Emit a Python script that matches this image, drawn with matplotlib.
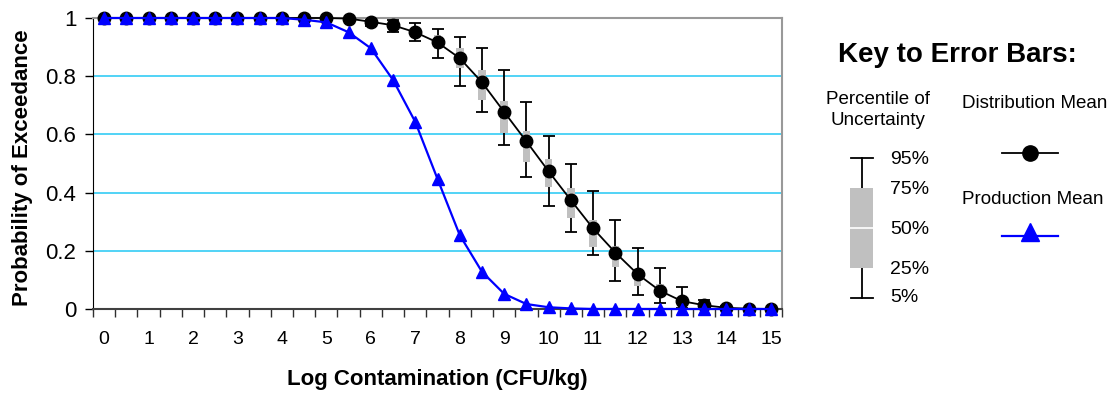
import numpy as np
import matplotlib
matplotlib.use("Agg")
import matplotlib.pyplot as plt
from matplotlib.patches import Rectangle
from matplotlib.lines import Line2D

plt.rcParams["font.family"] = ["Liberation Sans", "DejaVu Sans"]

# Log contamination categories (CFU/kg)
log_cfu = [0, 0.5, 1, 1.5, 2, 2.5, 3, 3.5, 4, 4.5, 5, 5.5, 6, 6.5, 7, 7.5,
           8, 8.5, 9, 9.5, 10, 10.5, 11, 11.5, 12, 12.5, 13, 13.5, 14, 14.5, 15]

# Distribution mean probability of exceedance
dist_mean = [1.0, 1.0, 1.0, 1.0, 1.0, 1.0, 1.0, 1.0, 1.0, 1.0, 1.0, 0.998,
             0.987, 0.975, 0.951, 0.916, 0.862, 0.779, 0.677, 0.576, 0.473,
             0.374, 0.277, 0.194, 0.120, 0.063, 0.027, 0.013, 0.004, 0.001, 0.0]

# Uncertainty percentiles around the distribution mean
p05 = [1.0, 1.0, 1.0, 1.0, 1.0, 1.0, 1.0, 1.0, 1.0, 1.0, 1.0, 0.994,
       0.972, 0.953, 0.922, 0.864, 0.766, 0.678, 0.564, 0.455, 0.354,
       0.266, 0.187, 0.097, 0.049, 0.020, 0.003, 0.0, 0.0, 0.0, 0.0]
p25 = [1.0, 1.0, 1.0, 1.0, 1.0, 1.0, 1.0, 1.0, 1.0, 1.0, 1.0, 0.997,
       0.982, 0.965, 0.940, 0.895, 0.827, 0.718, 0.604, 0.506, 0.418,
       0.312, 0.214, 0.145, 0.079, 0.045, 0.015, 0.005, 0.0, 0.0, 0.0]
p75 = [1.0, 1.0, 1.0, 1.0, 1.0, 1.0, 1.0, 1.0, 1.0, 1.0, 1.0, 1.0,
       0.994, 0.985, 0.965, 0.940, 0.898, 0.821, 0.715, 0.613, 0.517,
       0.415, 0.306, 0.218, 0.134, 0.085, 0.040, 0.020, 0.006, 0.002, 0.0]
p95 = [1.0, 1.0, 1.0, 1.0, 1.0, 1.0, 1.0, 1.0, 1.0, 1.0, 1.0, 1.0,
       0.998, 0.993, 0.982, 0.961, 0.934, 0.897, 0.820, 0.712, 0.593,
       0.497, 0.407, 0.306, 0.210, 0.140, 0.075, 0.031, 0.010, 0.003, 0.0]

# Production mean probability of exceedance
prod_mean = [1.0, 1.0, 1.0, 1.0, 1.0, 1.0, 1.0, 1.0, 1.0, 0.994, 0.985,
             0.951, 0.896, 0.787, 0.643, 0.447, 0.254, 0.128, 0.052, 0.017,
             0.006, 0.002, 0.0, 0.0, 0.0, 0.0, 0.0, 0.0, 0.0, 0.0, 0.0]

y_ticks = [0, 0.2, 0.4, 0.6, 0.8, 1]
y_tick_labels = ["0", "0.2", "0.4", "0.6", "0.8", "1"]
x_labels = list(range(0, 16))

key_percentiles = ["95%", "75%", "50%", "25%", "5%"]

W, H = 1117, 396
fig = plt.figure(figsize=(W / 100, H / 100), dpi=100)
ax = fig.add_axes([93 / W, 1 - 309 / H, (782 - 93) / W, (309 - 18) / H])

x = np.array(log_cfu)
mean = np.array(dist_mean)
lo, q1, q3, hi = map(np.array, (p05, p25, p75, p95))

# Gridlines
for yv in y_ticks[1:-1]:
    ax.axhline(yv, color="#33CCF5", lw=1.2, zorder=1)

# 5%-95% whiskers
ax.errorbar(x, mean, yerr=[mean - lo, hi - mean], fmt="none", ecolor="black",
            elinewidth=1.3, capsize=4.5, capthick=1.3, zorder=2)
# 25%-75% boxes
ax.bar(x, q3 - q1, bottom=q1, width=0.17, color="#C0C0C0", linewidth=0, zorder=3)

ax.plot(x, mean, color="black", lw=1.3, marker="o", ms=9,
        mfc="black", mec="black", zorder=4, clip_on=False)
ax.plot(x, prod_mean, color="#0000FF", lw=1.6, marker="^", ms=9,
        mfc="#0000FF", mec="#0000FF", zorder=5, clip_on=False)

ax.set_xlim(-0.25, 15.25)
ax.set_ylim(0, 1)

ax.set_yticks(y_ticks)
ax.set_yticklabels(y_tick_labels, fontsize=16)
ax.tick_params(axis="y", length=6, width=1, direction="out", pad=6, colors="black")

ax.set_xticks(x_labels)
ax.set_xticklabels([str(v) for v in x_labels], fontsize=14)
ax.set_xticks(np.arange(-0.25, 15.3, 0.5), minor=True)
ax.tick_params(axis="x", which="major", length=0, pad=16)
ax.tick_params(axis="x", which="minor", length=6, width=1, color="#303030")

for side in ("top", "right"):
    ax.spines[side].set_color("#999999")
    ax.spines[side].set_linewidth(1.5)
ax.spines["left"].set_color("black")
ax.spines["bottom"].set_color("#404040")
ax.spines["bottom"].set_linewidth(1.5)

ax.set_xlabel("Log Contamination (CFU/kg)", fontsize=16, fontweight="bold")
ax.xaxis.set_label_coords(0.5, -(380 - 309) / 291)
ax.xaxis.label.set_va("center")
ax.set_ylabel("Probability of Exceedance", fontsize=16, fontweight="bold")
ax.yaxis.set_label_coords((23 - 93) / 689, (309 - 168) / 291)
ax.yaxis.label.set_va("center")

# Key panel drawn in pixel space
key = fig.add_axes([0, 0, 1, 1], facecolor="none")
key.set_xlim(0, W)
key.set_ylim(H, 0)
key.axis("off")

key.text(957, 55, "Key to Error Bars:", fontsize=20, fontweight="bold",
         ha="center", va="center")
key.text(878, 110, "Percentile of\nUncertainty", fontsize=13.5,
         ha="center", va="center", linespacing=1.25)
key.text(1035, 104, "Distribution Mean", fontsize=13.5, ha="center", va="center")
key.text(1033, 200, "Production Mean", fontsize=13.5, ha="center", va="center")

# Box-and-whisker legend
cx, top, q3y, medy, q1y, bot = 862, 158, 188, 228, 268, 298
key.add_line(Line2D([cx, cx], [top, bot], color="black", lw=1.3))
for yy in (top, bot):
    key.add_line(Line2D([cx - 11, cx + 11], [yy, yy], color="black", lw=1.3))
key.add_patch(Rectangle((850, q3y), 23, q1y - q3y, facecolor="#C0C0C0",
                        edgecolor="none", zorder=3))
key.add_line(Line2D([850, 873], [medy, medy], color="white", lw=1.2, zorder=4))
for label, yy in zip(key_percentiles, (159, 189, 229, 270, 298)):
    key.text(890, yy, label, fontsize=14, ha="left", va="center")

# Series legend samples
key.add_line(Line2D([1002, 1058], [153, 153], color="black", lw=1.3))
key.add_line(Line2D([1030], [153], color="black", marker="o", ms=11, lw=0))
key.add_line(Line2D([1002, 1058], [236, 236], color="#0000FF", lw=1.6))
key.add_line(Line2D([1030], [232], color="#0000FF", marker="^", ms=13, lw=0))

fig.savefig("out.png", dpi=100)
